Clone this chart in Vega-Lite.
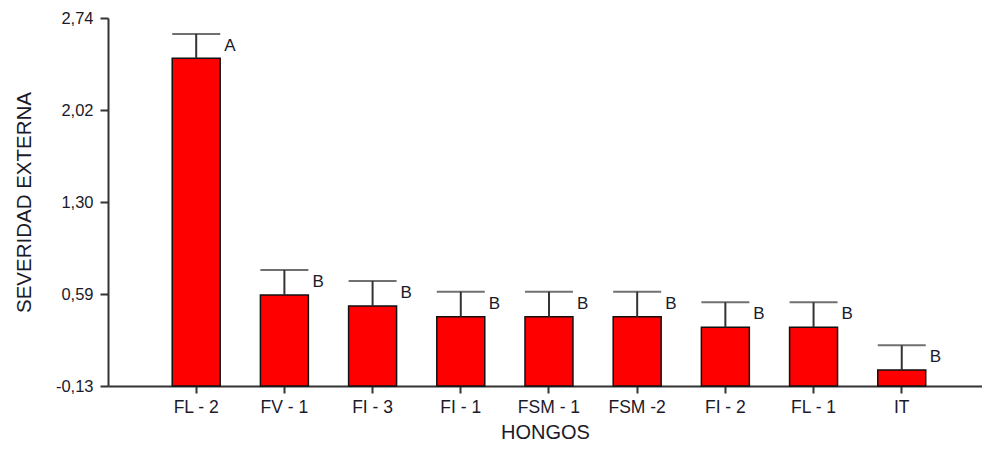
{
  "$schema": "https://vega.github.io/schema/vega-lite/v6.json",
  "width": 874,
  "height": 368,
  "autosize": "none",
  "padding": {"left": 108, "top": 18, "right": 0, "bottom": 65},
  "config": {
    "view": {"stroke": null},
    "font": "Liberation Sans",
    "locale": {"number": {"decimal": ",", "thousands": ".", "grouping": [3], "currency": ["", " €"], "minus": "-"}},
    "axis": {
      "grid": false,
      "domainColor": "#333333",
      "domainWidth": 2,
      "tickColor": "#333333",
      "tickWidth": 2,
      "labelColor": "#1a1a2a",
      "titleColor": "#1a1a2a",
      "labelFont": "Liberation Sans",
      "titleFont": "Liberation Sans",
      "titleFontWeight": "normal"
    }
  },
  "data": {
    "values": [
      {"hongo": "FL - 2", "media": 2.426, "sup": 2.616, "letra": "A"},
      {"hongo": "FV - 1", "media": 0.58, "sup": 0.775, "letra": "B"},
      {"hongo": "FI - 3", "media": 0.494, "sup": 0.689, "letra": "B"},
      {"hongo": "FI - 1", "media": 0.411, "sup": 0.606, "letra": "B"},
      {"hongo": "FSM - 1", "media": 0.411, "sup": 0.606, "letra": "B"},
      {"hongo": "FSM -2", "media": 0.411, "sup": 0.606, "letra": "B"},
      {"hongo": "FI - 2", "media": 0.328, "sup": 0.523, "letra": "B"},
      {"hongo": "FL - 1", "media": 0.328, "sup": 0.523, "letra": "B"},
      {"hongo": "IT", "media": -0.005, "sup": 0.187, "letra": "B"}
    ]
  },
  "encoding": {
    "x": {
      "field": "hongo",
      "type": "nominal",
      "sort": null,
      "scale": {"paddingInner": 0.456, "paddingOuter": 0.683, "align": 0.533},
      "axis": {
        "title": "HONGOS",
        "labelAngle": 0,
        "labelFontSize": 17.5,
        "titleFontSize": 20,
        "tickSize": 7,
        "labelPadding": 5,
        "titlePadding": 7
      }
    }
  },
  "layer": [
    {
      "mark": {"type": "bar", "color": "#ff0000", "stroke": "#111111", "strokeWidth": 1.5},
      "encoding": {
        "y": {
          "field": "media",
          "type": "quantitative",
          "scale": {"domain": [-0.13, 2.74], "nice": false, "zero": false},
          "axis": {
            "title": "SEVERIDAD EXTERNA",
            "values": [-0.13, 0.5875, 1.305, 2.0225, 2.74],
            "format": ".2f",
            "labelFontSize": 16.5,
            "titleFontSize": 20.5,
            "tickSize": 8,
            "labelPadding": 7,
            "titlePadding": 21
          }
        },
        "y2": {"datum": -0.13}
      }
    },
    {
      "mark": {"type": "rule", "color": "#333333", "strokeWidth": 2},
      "encoding": {
        "y": {"field": "media", "type": "quantitative"},
        "y2": {"field": "sup"}
      }
    },
    {
      "mark": {"type": "tick", "color": "#333333", "orient": "horizontal", "size": 48, "thickness": 2},
      "encoding": {
        "y": {"field": "sup", "type": "quantitative"}
      }
    },
    {
      "mark": {"type": "text", "align": "left", "baseline": "alphabetic", "dx": 28, "dy": 17, "fontSize": 17, "color": "#1a1a2a"},
      "encoding": {
        "y": {"field": "sup", "type": "quantitative"},
        "text": {"field": "letra"}
      }
    }
  ]
}
